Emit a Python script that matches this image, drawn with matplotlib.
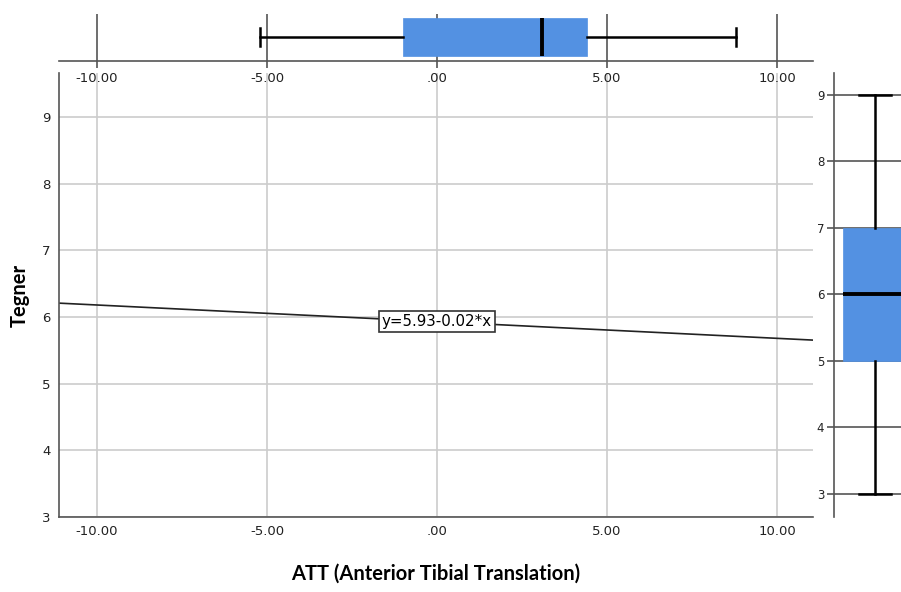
import numpy as np
import matplotlib.pyplot as plt

# ATT distribution (top boxplot)
att_stats = dict(whislo=-5.2, q1=-1.0, med=3.1, q3=4.4, whishi=8.8)
# Tegner distribution (right boxplot)
tegner_stats = dict(whislo=3, q1=5, med=6, q3=7, whishi=9)
# fit line: y = intercept + slope * x
fit_intercept = 5.93
fit_slope = -0.025
fit_label = "y=5.93-0.02*x"

x_ticks = [-10, -5, 0, 5, 10]
x_tick_labels = ["-10.00", "-5.00", ".00", "5.00", "10.00"]
y_ticks = [3, 4, 5, 6, 7, 8, 9]

BLUE = "#5391E2"
DARK = "#555555"
GRID = "#cccccc"
XLIM = (-11.12, 11.06)

W, H = 901, 592
fig = plt.figure(figsize=(W / 100, H / 100), dpi=100)


def px_axes(left, top, right, bottom):
    return fig.add_axes([left / W, 1 - bottom / H, (right - left) / W, (bottom - top) / H])


# main scatter/fit panel
ax = px_axes(59, 73, 813, 517)
ax.set_xlim(*XLIM)
ax.set_ylim(3, 9.66)
ax.set_xticks(x_ticks)
ax.set_xticklabels(x_tick_labels)
ax.set_yticks(y_ticks)
ax.grid(True, color=GRID, lw=1.2)
ax.set_axisbelow(True)
for s in ["top", "right"]:
    ax.spines[s].set_visible(False)
for s in ["left", "bottom"]:
    ax.spines[s].set_color(DARK)
    ax.spines[s].set_linewidth(1.2)
ax.tick_params(length=0, labelsize=9.5, colors="#222222", pad=6)

xs = np.array(XLIM)
ax.plot(xs, fit_intercept + fit_slope * xs, color="#222222", lw=1.2)
ax.text(0, fit_intercept + fit_slope * 0, fit_label, ha="center", va="center",
        fontsize=10.8, family="DejaVu Sans",
        bbox=dict(boxstyle="square,pad=0.2", fc="white", ec="#333333", lw=1.2))

ax.set_xlabel("ATT (Anterior Tibial Translation)", family="Lato", weight="bold",
              fontsize=14.5, labelpad=18)
ax.set_ylabel("Tegner", family="Lato", weight="bold", fontsize=14.5, labelpad=9)

# top boxplot for ATT
axt = px_axes(59, 14, 813, 61)
axt.set_xlim(*XLIM)
axt.set_ylim(0, 1)
for xt in x_ticks:
    axt.axvline(xt, color=DARK, lw=1.2, zorder=0)
axt.bxp([att_stats], positions=[0.51], widths=0.81, vert=False, showfliers=False,
        patch_artist=True,
        boxprops=dict(facecolor=BLUE, edgecolor=BLUE, lw=0.5),
        medianprops=dict(color="black", lw=2.8),
        whiskerprops=dict(color="black", lw=1.8),
        capprops=dict(color="black", lw=1.8), capwidths=0.38)
axt.set_xticks(x_ticks)
axt.set_xticklabels(x_tick_labels)
axt.set_yticks([])
for s in ["top", "right", "left"]:
    axt.spines[s].set_visible(False)
axt.spines["bottom"].set_color(DARK)
axt.spines["bottom"].set_linewidth(1.2)
axt.tick_params(axis="x", length=5, width=1.2, color=DARK, labelsize=9.5,
                labelcolor="#222222", pad=3)

# right boxplot for Tegner (cut off at figure edge)
axr = px_axes(834, 73, 934, 517)
axr.set_ylim(2.654, 9.33)
axr.set_xlim(0, 1)
for yt in y_ticks:
    axr.axhline(yt, color=DARK, lw=1.2, zorder=0)
axr.bxp([tegner_stats], positions=[0.41], widths=0.64, showfliers=False,
        patch_artist=True,
        boxprops=dict(facecolor=BLUE, edgecolor=BLUE, lw=0.5),
        medianprops=dict(color="black", lw=2.8),
        whiskerprops=dict(color="black", lw=1.8),
        capprops=dict(color="black", lw=1.8), capwidths=0.32)
axr.set_yticks(y_ticks)
axr.set_xticks([])
for s in ["top", "right", "bottom"]:
    axr.spines[s].set_visible(False)
axr.spines["left"].set_color(DARK)
axr.spines["left"].set_linewidth(1.2)
axr.tick_params(axis="y", length=5, width=1.2, color=DARK, labelsize=8.5,
                labelcolor="#222222", pad=2)

fig.savefig("out.png", dpi=100)
